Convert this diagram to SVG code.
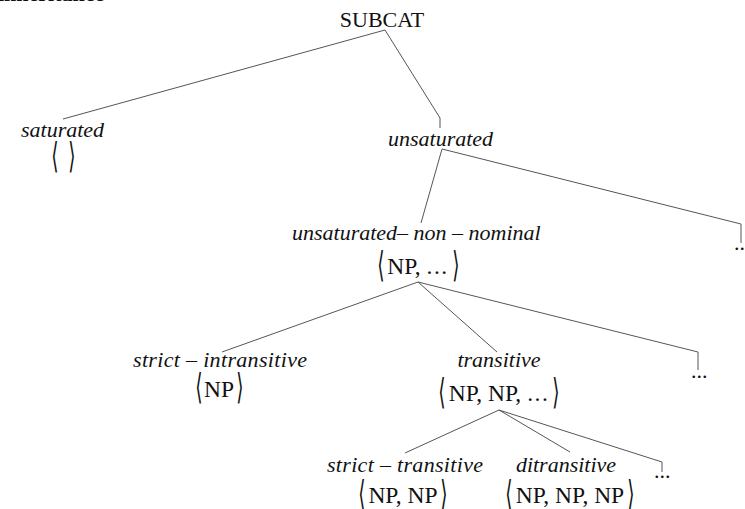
<svg xmlns="http://www.w3.org/2000/svg" width="745" height="509" viewBox="0 0 745 509">
<style>
.t{font-family:"Liberation Serif","DejaVu Serif",serif;font-size:22px;fill:#111}
.u{font-size:23.5px;text-anchor:middle}
.i{font-style:italic}
.b{font-family:"DejaVu Sans",sans-serif;font-size:22px;fill:#111;text-anchor:middle}
.e{fill:none;stroke:#555;stroke-width:1}
</style>
<rect width="745" height="509" fill="#fff"/>
<text class="t" x="-2" y="1" font-weight="bold">inheritance</text>
<g id="connectors">
<polyline class="e" points="385,30 63,119"/>
<polyline class="e" points="385,30 440,118 440,128"/>
<polyline class="e" points="442,149 421,223"/>
<polyline class="e" points="442,149 741,224 741,243"/>
<polyline class="e" points="418,282 222,352"/>
<polyline class="e" points="418,282 497,352"/>
<polyline class="e" points="418,282 698,352 698,370"/>
<polyline class="e" points="499,410 405,453"/>
<polyline class="e" points="499,410 570,452"/>
<polyline class="e" points="499,410 662,462 662,472"/>
</g>
<g id="subcat"><text class="t" x="382" y="27" text-anchor="middle">SUBCAT</text></g>
<g id="saturated">
<text class="t i" x="21" y="137">saturated</text>
<text class="b" transform="translate(55,168) scale(0.85,1.6)">⟨</text>
<text class="b" transform="translate(72,168) scale(0.85,1.6)">⟩</text>
</g>
<g id="unsaturated"><text class="t i" x="388" y="146">unsaturated</text></g>
<g id="unsat-non-nominal">
<text class="t i" x="292" y="240">unsaturated– non – nominal</text>
<text class="b" transform="translate(381,277) scale(0.85,1.6)">⟨</text>
<text class="t u" x="418" y="274">NP, <tspan letter-spacing="1.5">...</tspan></text>
<text class="b" transform="translate(456,277) scale(0.85,1.6)">⟩</text>
</g>
<g id="dots1"><text class="t" x="734" y="250">..</text></g>
<g id="strict-intransitive">
<text class="t i" x="133" y="367" textLength="174">strict – intransitive</text>
<text class="b" transform="translate(199,399) scale(0.85,1.6)">⟨</text>
<text class="t u" x="219" y="397">NP</text>
<text class="b" transform="translate(240,399) scale(0.85,1.6)">⟩</text>
</g>
<g id="transitive">
<text class="t i" x="499" y="367" text-anchor="middle">transitive</text>
<text class="b" transform="translate(442,404) scale(0.85,1.6)">⟨</text>
<text class="t u" x="499" y="401">NP, NP, <tspan letter-spacing="1.5">...</tspan></text>
<text class="b" transform="translate(556,404) scale(0.85,1.6)">⟩</text>
</g>
<g id="dots2"><text class="t" x="691" y="378">...</text></g>
<g id="strict-transitive">
<text class="t i" x="327" y="472" textLength="156">strict – transitive</text>
<text class="b" transform="translate(362,506) scale(0.85,1.6)">⟨</text>
<text class="t u" x="403" y="503">NP, NP</text>
<text class="b" transform="translate(444,506) scale(0.85,1.6)">⟩</text>
</g>
<g id="ditransitive">
<text class="t i" x="566" y="472" text-anchor="middle">ditransitive</text>
<text class="b" transform="translate(509,506) scale(0.85,1.6)">⟨</text>
<text class="t u" x="570" y="503">NP, NP, NP</text>
<text class="b" transform="translate(631,506) scale(0.85,1.6)">⟩</text>
</g>
<g id="dots3"><text class="t" x="654" y="478">...</text></g>
</svg>
